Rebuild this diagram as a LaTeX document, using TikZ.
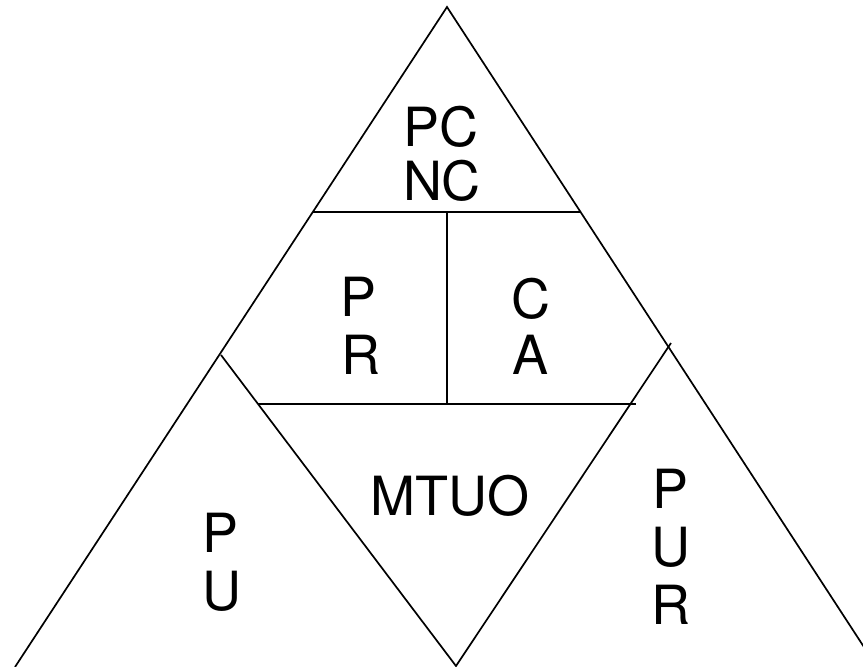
\documentclass[tikz,border=0pt]{standalone}
\usepackage{fontspec}
\setmainfont{TeX Gyre Heros}
\usetikzlibrary{calc}
\begin{document}
\begin{tikzpicture}[x=1pt,y=-1pt,
  edge/.style={line width=1.7pt, line join=miter},
  hline/.style={line width=2.1pt},
  thickline/.style={line width=2.8pt},
  lbl/.style={anchor=base, inner sep=0pt, font=\fontsize{54}{60}\selectfont}]
\useasboundingbox (0,0) rectangle (863,667);
% outer triangle
\coordinate (A) at (447,7);
\coordinate (L) at (15,667);
\coordinate (R) at (877,667);
\draw[edge] (L) -- (A) -- (R);
% upper horizontal
\coordinate (h1l) at ($(A)!0.3106!(L)$);
\coordinate (h1r) at ($(A)!0.3106!(R)$);
\draw[hline] (h1l) -- (h1r);
% vertical divider
\coordinate (vt) at (447,212);
\coordinate (vb) at (447,404);
\draw[hline] (vt) -- (vb);
% lower horizontal
\coordinate (h2l) at (258,404);
\coordinate (h2r) at (636,404);
\draw[thickline] (h2l) -- (h2r);
% inner V
\coordinate (il) at (221,355);
\coordinate (ir) at (671,343);
\coordinate (iv) at (456,666);
\draw[edge] (il) -- (iv) -- (ir);
% labels
\node[lbl] (pc) at (441,146) {PC};
\node[lbl] (nc) at (442,200) {NC};
\node[lbl] (p1) at (359,316) {P};
\node[lbl] (r1) at (361,374) {R};
\node[lbl] (c1) at (531,318) {C};
\node[lbl] (a1) at (531,374) {A};
\node[lbl] (mtuo) at (450,515) {MTUO};
\node[lbl] (p2) at (221,552) {P};
\node[lbl] (u2) at (222,610) {U};
\node[lbl] (p3) at (671,508) {P};
\node[lbl] (u3) at (671,566) {U};
\node[lbl] (r3) at (671,624) {R};
\end{tikzpicture}
\end{document}
